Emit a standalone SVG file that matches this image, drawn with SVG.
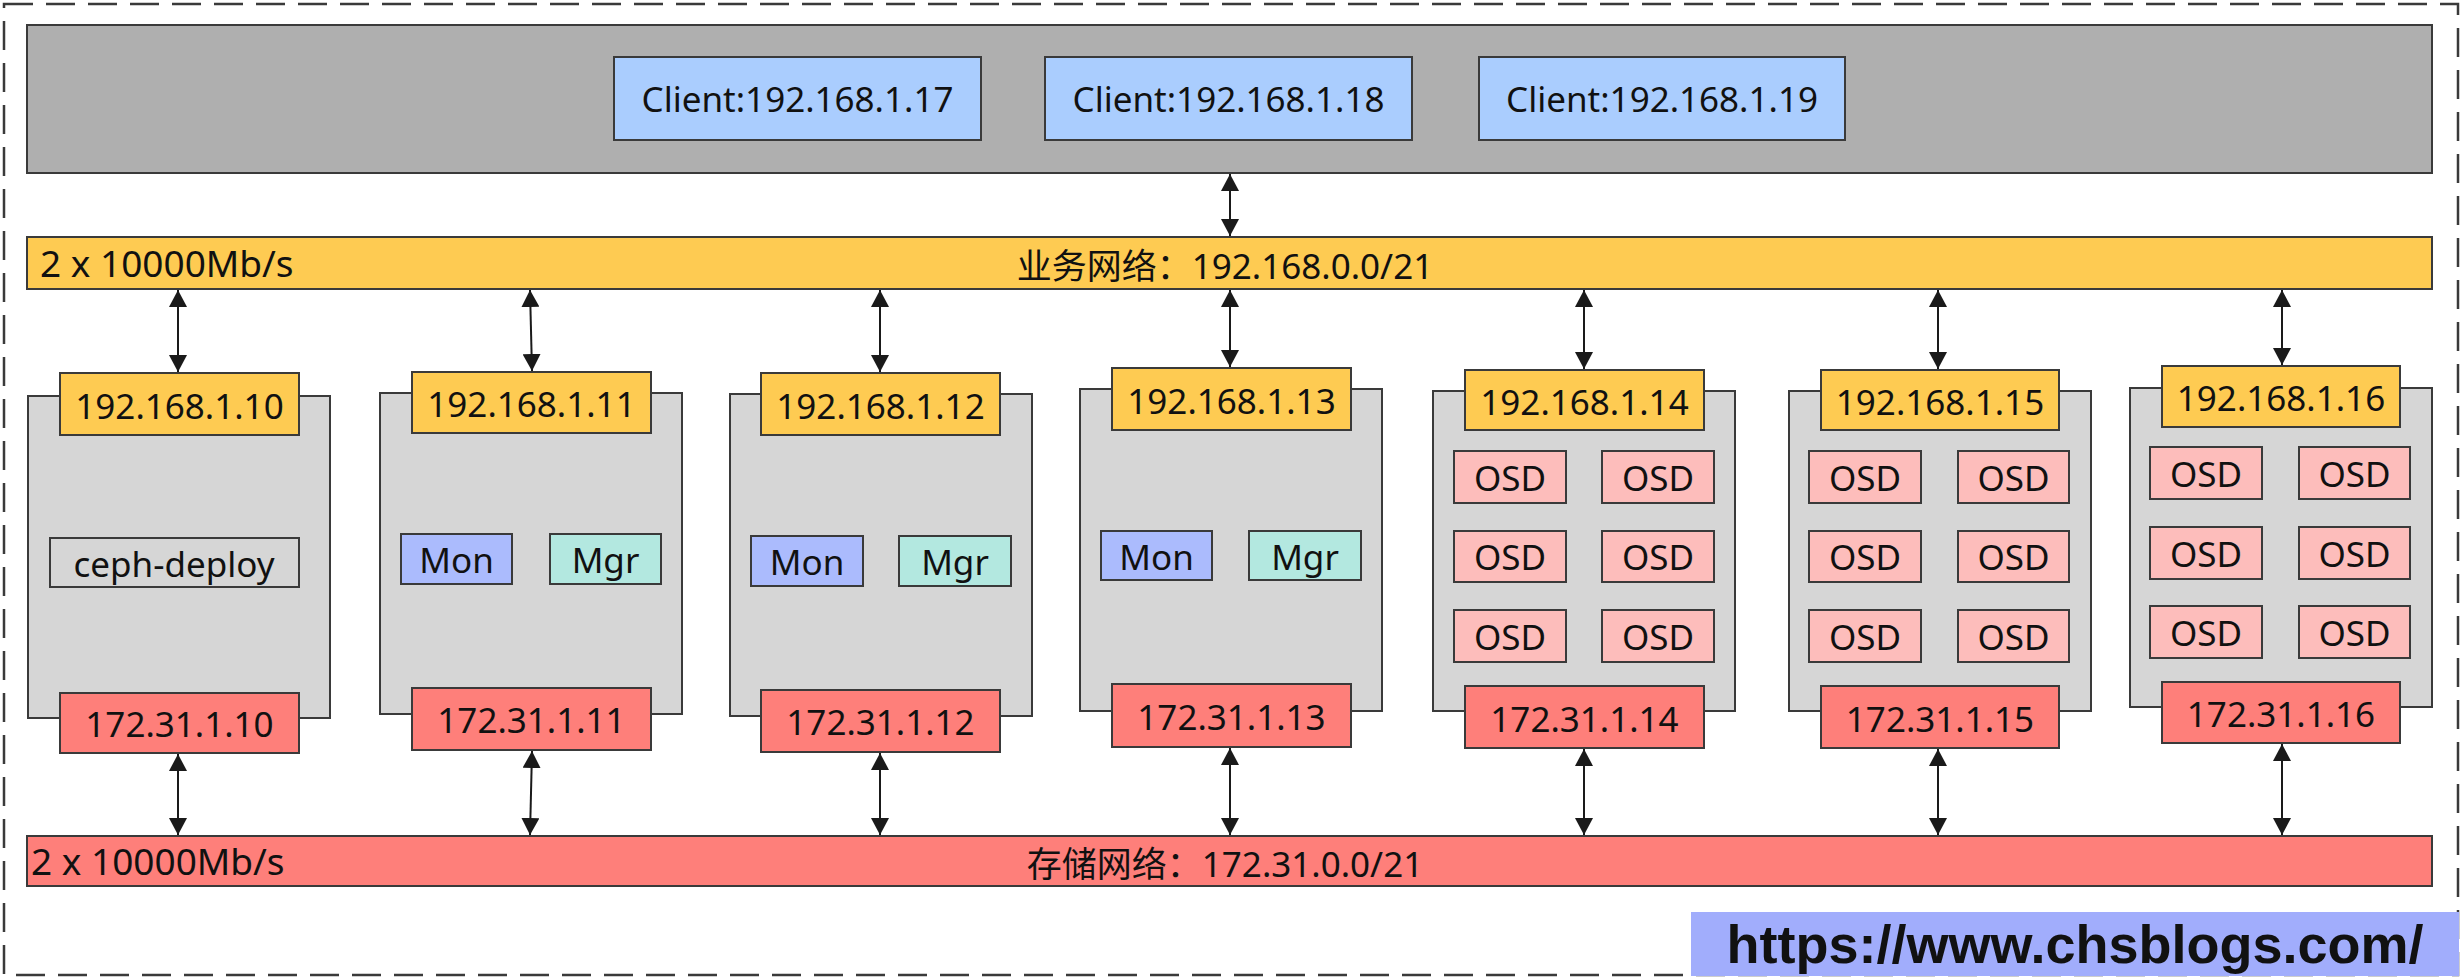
<svg xmlns="http://www.w3.org/2000/svg" width="2462" height="980" viewBox="0 0 2462 980">
<style>
text{font-family:"Noto Sans","Noto Sans CJK SC",sans-serif;font-size:35px;fill:#111;}
.m{text-anchor:middle;}
.sp{font-size:37px;}
.bx{stroke:#3a3a3a;stroke-width:2;}
.host{fill:#d6d6d6;}
.pub{fill:#fecb52;}
.sto{fill:#fe7f7a;}
.cli{fill:#aacdfe;}
.mon{fill:#abbbfd;}
.mgr{fill:#b3e8e0;}
.osd{fill:#fdbdbb;}
.cn{stroke:#1a1a1a;stroke-width:2;fill:none;marker-start:url(#ah);marker-end:url(#ah);}
</style>
<defs>
<marker id="ah" viewBox="0 0 17 18" refX="17" refY="9" markerWidth="17" markerHeight="18" markerUnits="userSpaceOnUse" orient="auto-start-reverse">
<path d="M0,0 L17,9 L0,18 z" fill="#1a1a1a"/>
</marker>
</defs>
<rect x="0" y="0" width="2462" height="980" fill="#ffffff"/>
<rect id="frame" x="4" y="4" width="2454" height="971" fill="none" stroke="#3a3a3a" stroke-width="2.5" stroke-dasharray="29 13"/>

<g id="clients">
<rect class="bx" x="27" y="25" width="2405" height="148" fill="#afafaf"/>
<g id="client17"><rect class="bx cli" x="614" y="57" width="367" height="83"/><text class="m" x="797.5" y="112">Client:192.168.1.17</text></g>
<g id="client18"><rect class="bx cli" x="1045" y="57" width="367" height="83"/><text class="m" x="1228.5" y="112">Client:192.168.1.18</text></g>
<g id="client19"><rect class="bx cli" x="1479" y="57" width="366" height="83"/><text class="m" x="1662" y="112">Client:192.168.1.19</text></g>
</g>

<g id="pubnet">
<rect class="bx pub" x="27" y="237" width="2405" height="52"/>
<text class="sp" x="40" y="277">2 x 10000Mb/s</text>
<text class="m" x="1225" y="279">业务网络：192.168.0.0/21</text>
</g>

<g id="stonet">
<rect class="bx sto" x="27" y="836" width="2405" height="50"/>
<text class="sp" x="31" y="875">2 x 10000Mb/s</text>
<text class="m" x="1225" y="877">存储网络：172.31.0.0/21</text>
</g>

<g id="node10">
<rect class="bx host" x="28" y="396" width="302" height="322"/>
<rect class="bx pub" x="60" y="373" width="239" height="62"/><text class="m" x="179.5" y="419">192.168.1.10</text>
<rect class="bx host" x="50" y="538" width="249" height="49"/><text class="m" x="174" y="577">ceph-deploy</text>
<rect class="bx sto" x="60" y="693" width="239" height="60"/><text class="m" x="179.5" y="737">172.31.1.10</text>
</g>

<g id="node11">
<rect class="bx host" x="380" y="393" width="302" height="321"/>
<rect class="bx pub" x="412" y="372" width="239" height="61"/><text class="m" x="531.5" y="417">192.168.1.11</text>
<rect class="bx mon" x="401" y="534" width="111" height="50"/><text class="m" x="456.5" y="573">Mon</text>
<rect class="bx mgr" x="550" y="534" width="111" height="50"/><text class="m" x="605.5" y="573">Mgr</text>
<rect class="bx sto" x="412" y="688" width="239" height="62"/><text class="m" x="531.5" y="733">172.31.1.11</text>
</g>

<g id="node12">
<rect class="bx host" x="730" y="394" width="302" height="322"/>
<rect class="bx pub" x="761" y="373" width="239" height="62"/><text class="m" x="880.5" y="419">192.168.1.12</text>
<rect class="bx mon" x="751" y="536" width="112" height="50"/><text class="m" x="807" y="575">Mon</text>
<rect class="bx mgr" x="899" y="536" width="112" height="50"/><text class="m" x="955" y="575">Mgr</text>
<rect class="bx sto" x="761" y="690" width="239" height="62"/><text class="m" x="880.5" y="735">172.31.1.12</text>
</g>

<g id="node13">
<rect class="bx host" x="1080" y="389" width="302" height="322"/>
<rect class="bx pub" x="1112" y="368" width="239" height="62"/><text class="m" x="1231.5" y="414">192.168.1.13</text>
<rect class="bx mon" x="1101" y="531" width="111" height="49"/><text class="m" x="1156.5" y="570">Mon</text>
<rect class="bx mgr" x="1249" y="531" width="112" height="49"/><text class="m" x="1305" y="570">Mgr</text>
<rect class="bx sto" x="1112" y="684" width="239" height="63"/><text class="m" x="1231.5" y="730">172.31.1.13</text>
</g>

<g id="node14">
<rect class="bx host" x="1433" y="391" width="302" height="320"/>
<rect class="bx pub" x="1465" y="370" width="239" height="60"/><text class="m" x="1584.5" y="415">192.168.1.14</text>
<rect class="bx osd" x="1454" y="451" width="112" height="52"/><text class="m" x="1510" y="491">OSD</text>
<rect class="bx osd" x="1602" y="451" width="112" height="52"/><text class="m" x="1658" y="491">OSD</text>
<rect class="bx osd" x="1454" y="531" width="112" height="51"/><text class="m" x="1510" y="570">OSD</text>
<rect class="bx osd" x="1602" y="531" width="112" height="51"/><text class="m" x="1658" y="570">OSD</text>
<rect class="bx osd" x="1454" y="610" width="112" height="52"/><text class="m" x="1510" y="650">OSD</text>
<rect class="bx osd" x="1602" y="610" width="112" height="52"/><text class="m" x="1658" y="650">OSD</text>
<rect class="bx sto" x="1465" y="686" width="239" height="62"/><text class="m" x="1584.5" y="732">172.31.1.14</text>
</g>

<g id="node15">
<rect class="bx host" x="1789" y="391" width="302" height="320"/>
<rect class="bx pub" x="1821" y="370" width="238" height="60"/><text class="m" x="1940" y="415">192.168.1.15</text>
<rect class="bx osd" x="1809" y="451" width="112" height="52"/><text class="m" x="1865" y="491">OSD</text>
<rect class="bx osd" x="1958" y="451" width="111" height="52"/><text class="m" x="2013.5" y="491">OSD</text>
<rect class="bx osd" x="1809" y="531" width="112" height="51"/><text class="m" x="1865" y="570">OSD</text>
<rect class="bx osd" x="1958" y="531" width="111" height="51"/><text class="m" x="2013.5" y="570">OSD</text>
<rect class="bx osd" x="1809" y="610" width="112" height="52"/><text class="m" x="1865" y="650">OSD</text>
<rect class="bx osd" x="1958" y="610" width="111" height="52"/><text class="m" x="2013.5" y="650">OSD</text>
<rect class="bx sto" x="1821" y="686" width="238" height="62"/><text class="m" x="1940" y="732">172.31.1.15</text>
</g>

<g id="node16">
<rect class="bx host" x="2130" y="388" width="302" height="319"/>
<rect class="bx pub" x="2162" y="366" width="238" height="61"/><text class="m" x="2281" y="411">192.168.1.16</text>
<rect class="bx osd" x="2150" y="447" width="112" height="52"/><text class="m" x="2206" y="487">OSD</text>
<rect class="bx osd" x="2299" y="447" width="111" height="52"/><text class="m" x="2354.5" y="487">OSD</text>
<rect class="bx osd" x="2150" y="527" width="112" height="52"/><text class="m" x="2206" y="567">OSD</text>
<rect class="bx osd" x="2299" y="527" width="111" height="52"/><text class="m" x="2354.5" y="567">OSD</text>
<rect class="bx osd" x="2150" y="606" width="112" height="52"/><text class="m" x="2206" y="646">OSD</text>
<rect class="bx osd" x="2299" y="606" width="111" height="52"/><text class="m" x="2354.5" y="646">OSD</text>
<rect class="bx sto" x="2162" y="682" width="238" height="61"/><text class="m" x="2281" y="727">172.31.1.16</text>
</g>

<g id="connectors">
<line class="cn" x1="1230" y1="174" x2="1230" y2="236"/>
<line class="cn" x1="178" y1="290" x2="178" y2="372"/>
<line class="cn" x1="530" y1="290" x2="532" y2="371"/>
<line class="cn" x1="880" y1="290" x2="880" y2="372"/>
<line class="cn" x1="1230" y1="290" x2="1230" y2="367"/>
<line class="cn" x1="1584" y1="290" x2="1584" y2="369"/>
<line class="cn" x1="1938" y1="290" x2="1938" y2="369"/>
<line class="cn" x1="2282" y1="290" x2="2282" y2="365"/>
<line class="cn" x1="178" y1="754" x2="178" y2="835"/>
<line class="cn" x1="532" y1="751" x2="530" y2="835"/>
<line class="cn" x1="880" y1="753" x2="880" y2="835"/>
<line class="cn" x1="1230" y1="748" x2="1230" y2="835"/>
<line class="cn" x1="1584" y1="749" x2="1584" y2="835"/>
<line class="cn" x1="1938" y1="749" x2="1938" y2="835"/>
<line class="cn" x1="2282" y1="744" x2="2282" y2="835"/>
</g>

<g id="watermark">
<rect x="1691" y="912" width="768" height="64" fill="#a1adfc"/>
<text x="2075" y="963" text-anchor="middle" style="font-family:'Liberation Sans',Arial,sans-serif;font-weight:bold;font-size:54px;fill:#111">https://www.chsblogs.com/</text>
</g>
</svg>
